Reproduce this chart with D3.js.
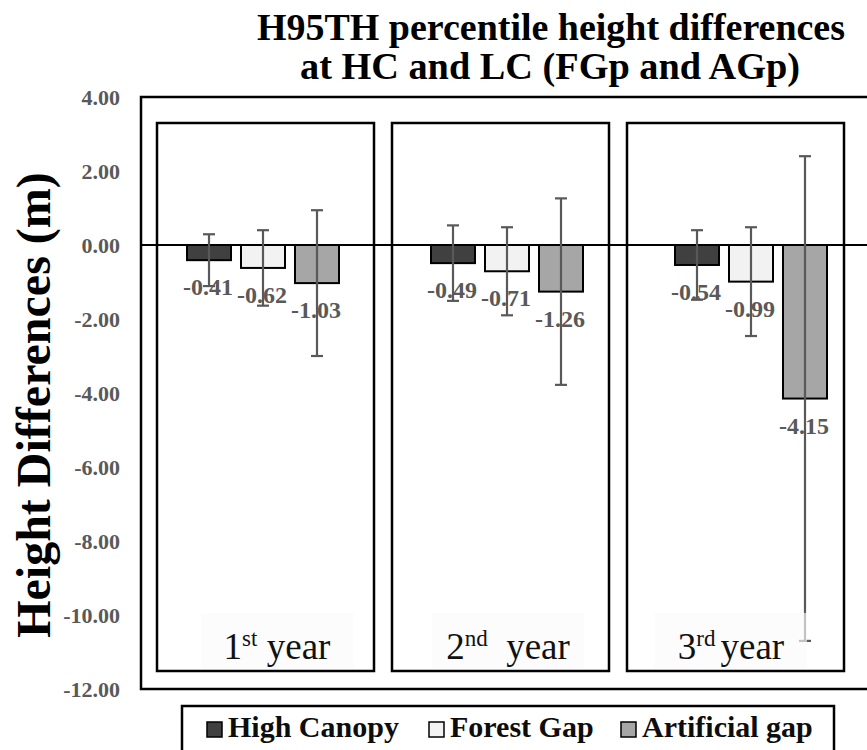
<!DOCTYPE html>
<html>
<head>
<meta charset="utf-8">
<script src="https://cdn.jsdelivr.net/npm/d3@7"></script>
<style>
  body { margin: 0; background: #fff; }
  text { font-family: "Liberation Serif", "Times New Roman", serif; }
</style>
</head>
<body>
<div id="chart"></div>
<script>
(function(){
    var width = 867, height = 750;

    // data
    var years = ["1st", "2nd", "3rd"];
    var yearNum = ["1", "2", "3"];
    var yearSup = ["st", "nd", "rd"];
    var series = ["High Canopy", "Forest Gap", "Artificial gap"];
    var highCanopy = [-0.41, -0.49, -0.54];
    var forestGap = [-0.62, -0.71, -0.99];
    var artificialGap = [-1.03, -1.26, -4.15];
    var highCanopyErr = [0.70, 1.02, 0.94];
    var forestGapErr = [1.02, 1.19, 1.47];
    var artificialGapErr = [1.97, 2.52, 6.55];
    var yTicks = [4, 2, 0, -2, -4, -6, -8, -10, -12];
    var colors = ["#404040", "#f2f2f2", "#a6a6a6"];

    var values = [highCanopy, forestGap, artificialGap];
    var errs = [highCanopyErr, forestGapErr, artificialGapErr];

    var rows = [];
    years.forEach(function(yr, i){
        series.forEach(function(s, j){
            rows.push({year: yr, series: s, value: values[j][i], err: errs[j][i], k: j});
        });
    });

    var svg = d3.select('#chart')
    .append("svg")
    .attr("width", width)
    .attr("height", height);

    var plot = {left: 141, right: 873, top: 97, bottom: 689};

    var y = d3.scaleLinear().domain([-12, 4]).range([plot.bottom, plot.top]);
    var x0 = d3.scaleBand().domain(years).range([plot.left, plot.right]);
    var x1 = d3.scaleBand().domain(series).range([0, x0.bandwidth()])
        .paddingInner(0.185).paddingOuter(0.852);

    var fmt = d3.formatLocale({decimal: ".", thousands: ",", grouping: [3], currency: ["", ""], minus: "-"}).format(".2f");

    // title
    var title = svg.append("g")
    .style("font-weight", "bold")
    .style("font-size", "38px");
    title.append("text")
    .attr("x", 257).attr("y", 40)
    .attr("textLength", 588).attr("lengthAdjust", "spacingAndGlyphs")
    .text("H95TH percentile height differences");
    title.append("text")
    .attr("x", 300).attr("y", 79)
    .attr("textLength", 500).attr("lengthAdjust", "spacingAndGlyphs")
    .text("at HC and LC (FGp and AGp)");

    // y axis title
    svg.append("text")
    .attr("transform", "translate(50," + ((plot.top + plot.bottom) / 2 + 12) + ") rotate(-90)")
    .attr("text-anchor", "middle")
    .style("font-weight", "bold")
    .style("font-size", "48px")
    .text("Height Differences (m)");

    // outer frame
    svg.append("rect")
    .attr("x", plot.left).attr("y", plot.top)
    .attr("width", plot.right - plot.left + 20)
    .attr("height", plot.bottom - plot.top)
    .attr("fill", "none").attr("stroke", "#000").attr("stroke-width", 2.5);

    // y axis labels
    var yAxis = svg.append("g")
    .attr("transform", "translate(" + plot.left + ",0)")
    .call(d3.axisLeft(y).tickValues(yTicks).tickFormat(fmt).tickSize(0).tickPadding(21));
    yAxis.select(".domain").remove();
    yAxis.selectAll("text")
    .style("font-family", "'Liberation Serif', serif")
    .style("font-weight", "bold")
    .style("font-size", "22px")
    .attr("fill", "#595959");

    // year panels
    var panelX = 157, panelStep = 235, panelW = 217, panelTop = 123, panelBottom = 671;
    svg.selectAll(".panel")
    .data(years)
    .enter().append("rect")
    .attr("class", "panel")
    .attr("x", function(d, i){ return panelX + i * panelStep; })
    .attr("y", panelTop)
    .attr("width", panelW)
    .attr("height", panelBottom - panelTop)
    .attr("fill", "none").attr("stroke", "#000").attr("stroke-width", 2.5);

    // bars
    svg.selectAll(".bar")
    .data(rows)
    .enter().append("rect")
    .attr("class", "bar")
    .attr("x", function(d){ return x0(d.year) + x1(d.series); })
    .attr("y", function(d){ return y(Math.max(0, d.value)); })
    .attr("width", x1.bandwidth())
    .attr("height", function(d){ return Math.abs(y(d.value) - y(0)); })
    .attr("fill", function(d){ return colors[d.k]; })
    .attr("stroke", "#000").attr("stroke-width", 2);

    // zero line
    svg.append("line")
    .attr("x1", plot.left).attr("x2", width)
    .attr("y1", y(0)).attr("y2", y(0))
    .attr("stroke", "#000").attr("stroke-width", 2);

    // data labels
    svg.selectAll(".dlabel")
    .data(rows)
    .enter().append("text")
    .attr("class", "dlabel")
    .attr("x", function(d){ return x0(d.year) + x1(d.series) + x1.bandwidth() / 2 - 1; })
    .attr("y", function(d){ return y(d.value) + 35; })
    .attr("text-anchor", "middle")
    .style("font-weight", "bold")
    .style("font-size", "24px")
    .attr("fill", "#595959")
    .text(function(d){ return fmt(d.value); });

    // error bars
    var eb = svg.selectAll(".err")
    .data(rows)
    .enter().append("g")
    .attr("class", "err")
    .attr("stroke", "#595959").attr("stroke-width", 2.2);
    eb.append("line")
    .attr("x1", function(d){ return x0(d.year) + x1(d.series) + x1.bandwidth() / 2; })
    .attr("x2", function(d){ return x0(d.year) + x1(d.series) + x1.bandwidth() / 2; })
    .attr("y1", function(d){ return y(d.value + d.err); })
    .attr("y2", function(d){ return y(d.value - d.err); });
    [1, -1].forEach(function(sgn){
        eb.append("line")
        .attr("x1", function(d){ return x0(d.year) + x1(d.series) + x1.bandwidth() / 2 - 6; })
        .attr("x2", function(d){ return x0(d.year) + x1(d.series) + x1.bandwidth() / 2 + 6; })
        .attr("y1", function(d){ return y(d.value + sgn * d.err); })
        .attr("y2", function(d){ return y(d.value + sgn * d.err); });
    });

    // year labels with their faint boxes
    var labelCx = [277, 508, 731];
    svg.selectAll(".ybox")
    .data(years)
    .enter().append("rect")
    .attr("class", "ybox")
    .attr("x", function(d, i){ return labelCx[i] - 76; })
    .attr("y", 613)
    .attr("width", 152)
    .attr("height", 56)
    .attr("fill", "#fafafa").attr("opacity", 0.65);

    var yl = svg.selectAll(".ylabel")
    .data(years)
    .enter().append("text")
    .attr("class", "ylabel")
    .attr("x", function(d, i){ return labelCx[i]; })
    .attr("y", 659)
    .attr("text-anchor", "middle")
    .style("font-size", "37px")
    .style("white-space", "pre")
    .attr("fill", "#111");
    yl.append("tspan").text(function(d, i){ return yearNum[i]; });
    yl.append("tspan").attr("dy", -13).style("font-size", "23px").text(function(d, i){ return yearSup[i]; });
    yl.append("tspan").attr("dy", 13)
    .attr("dx", function(d, i){ return i === 2 ? 5 : 0; })
    .text(function(d, i){ return i === 0 ? " year" : (i === 1 ? "  year" : "year"); });

    // legend
    svg.append("rect")
    .attr("x", 182).attr("y", 706)
    .attr("width", 652).attr("height", 60)
    .attr("fill", "#fff").attr("stroke", "#000").attr("stroke-width", 2.5);
    var legendX = [207, 429, 621];
    var lg = svg.selectAll(".leg")
    .data(series)
    .enter().append("g")
    .attr("class", "leg")
    .attr("transform", function(d, i){ return "translate(" + legendX[i] + ",722)"; });
    lg.append("rect")
    .attr("width", 15).attr("height", 15)
    .attr("fill", function(d, i){ return colors[i]; })
    .attr("stroke", "#000").attr("stroke-width", 1.5);
    lg.append("text")
    .attr("x", 21).attr("y", 15)
    .style("font-weight", "bold")
    .style("font-size", "30px")
    .attr("fill", "#0d0d0d")
    .text(function(d){ return d; });
})();
</script>
</body>
</html>
